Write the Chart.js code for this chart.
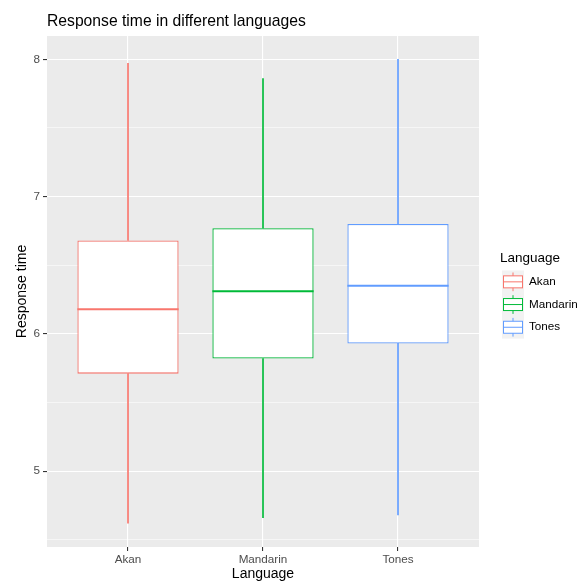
<!DOCTYPE html>
<html>
<head>
<meta charset="utf-8">
<script src="https://cdn.jsdelivr.net/npm/chart.js@4.4.0/dist/chart.umd.min.js"></script>
<style>
  html, body { margin: 0; padding: 0; background: #ffffff; }
  #wrap { width: 582px; height: 583px; }
</style>
</head>
<body>
<div id="wrap"><canvas id="box-chart"></canvas></div>
<script>
// data
const languages = ['Akan', 'Mandarin', 'Tones'];
const colors = ['#F8766D', '#00BA38', '#619CFF'];
const whiskerLow = [4.62, 4.66, 4.68];
const q1 = [5.71, 5.82, 5.93];
const median = [6.18, 6.31, 6.35];
const q3 = [6.68, 6.77, 6.80];
const whiskerHigh = [7.97, 7.86, 8.00];
const yTicks = [4.5, 5, 5.5, 6, 6.5, 7, 7.5, 8];

const FONT = 'Liberation Sans, Arial, sans-serif';

// panel background, median lines, title and legend
const ggPlugin = {
    id: 'ggLook',
    beforeDraw(chart) {
        const {ctx, chartArea} = chart;
        ctx.save();
        ctx.fillStyle = '#EBEBEB';
        ctx.fillRect(chartArea.left, chartArea.top, chartArea.right - chartArea.left, chartArea.bottom - chartArea.top);
        ctx.restore();
    },
    afterDatasetsDraw(chart) {
        const {ctx} = chart;
        const y = chart.scales.y;
        const meta = chart.getDatasetMeta(0);
        ctx.save();
        ctx.lineWidth = 2;
        meta.data.forEach((bar, i) => {
            const py = y.getPixelForValue(median[i]);
            ctx.strokeStyle = colors[i];
            ctx.beginPath();
            ctx.moveTo(bar.x - bar.width / 2, py);
            ctx.lineTo(bar.x + bar.width / 2, py);
            ctx.stroke();
        });
        ctx.restore();
    },
    afterDraw(chart) {
        const {ctx, chartArea} = chart;
        ctx.save();
        // title
        ctx.fillStyle = '#000000';
        ctx.font = '15.7px ' + FONT;
        ctx.textBaseline = 'alphabetic';
        ctx.textAlign = 'left';
        ctx.fillText('Response time in different languages', chartArea.left, 25.5);

        // legend
        const keyX = 502, keyW = 22, keyH = 22.7, keyTop = 270.5;
        ctx.font = '13.5px ' + FONT;
        ctx.fillText('Language', 500, 262);
        ctx.fillStyle = '#F2F2F2';
        ctx.fillRect(keyX, keyTop, keyW, keyH * languages.length);
        languages.forEach((lang, i) => {
            const cy = keyTop + keyH * i + keyH / 2;
            const cx = keyX + keyW / 2;
            ctx.strokeStyle = colors[i];
            ctx.lineWidth = 1;
            ctx.beginPath();
            ctx.moveTo(cx, keyTop + keyH * i + 2);
            ctx.lineTo(cx, keyTop + keyH * (i + 1) - 2);
            ctx.stroke();
            ctx.fillStyle = '#FFFFFF';
            ctx.fillRect(keyX + 1.5, cy - 6, keyW - 3, 12);
            ctx.strokeRect(keyX + 1.5, cy - 6, keyW - 3, 12);
            ctx.beginPath();
            ctx.moveTo(keyX + 1.5, cy);
            ctx.lineTo(keyX + keyW - 1.5, cy);
            ctx.stroke();
            ctx.fillStyle = '#000000';
            ctx.font = '11.7px ' + FONT;
            ctx.textBaseline = 'middle';
            ctx.fillText(lang, 529, cy);
        });
        ctx.restore();
    }
};

const ctx = document.getElementById('box-chart').getContext('2d');

const boxData = languages.map((l, i) => ({x: i + 1, y: [q1[i], q3[i]]}));
const lowData = languages.map((l, i) => ({x: i + 1, y: [whiskerLow[i], q1[i]]}));
const highData = languages.map((l, i) => ({x: i + 1, y: [q3[i], whiskerHigh[i]]}));

const myChart = new Chart(ctx, {
    type: 'bar',
    data: {
        datasets: [
            {
                label: 'box',
                data: boxData,
                backgroundColor: '#FFFFFF',
                borderColor: colors,
                borderWidth: 1.3,
                borderSkipped: false,
                grouped: false,
                categoryPercentage: 1,
                barPercentage: 0.75
            },
            {
                label: 'lower',
                data: lowData,
                backgroundColor: colors,
                borderWidth: 0,
                grouped: false,
                barThickness: 1
            },
            {
                label: 'upper',
                data: highData,
                backgroundColor: colors,
                borderWidth: 0,
                grouped: false,
                barThickness: 1
            }
        ]
    },
    options: {
        responsive: true,
        maintainAspectRatio: false,
        animation: false,
        layout: {
            padding: {left: 0, right: 103, top: 36, bottom: 0}
        },
        plugins: {
            legend: {display: false},
            tooltip: {enabled: false},
            title: {display: false}
        },
        scales: {
            x: {
                type: 'linear',
                min: 0.4,
                max: 3.6,
                offset: false,
                afterBuildTicks: (scale) => {
                    scale.ticks = languages.map((l, i) => ({value: i + 1}));
                },
                afterFit: (scale) => { scale.height = 36; },
                ticks: {
                    autoSkip: false,
                    maxRotation: 0,
                    padding: 2,
                    color: '#4D4D4D',
                    font: {family: FONT, size: 11.7},
                    callback: (v) => languages[v - 1]
                },
                grid: {
                    offset: false,
                    color: '#FFFFFF',
                    lineWidth: 1.1,
                    tickLength: 4,
                    tickColor: '#333333'
                },
                border: {display: false},
                title: {
                    display: true,
                    text: 'Language',
                    color: '#000000',
                    font: {family: FONT, size: 14},
                    padding: {top: 0, bottom: 0}
                }
            },
            y: {
                type: 'linear',
                min: 4.447,
                max: 8.17,
                afterBuildTicks: (scale) => {
                    scale.ticks = yTicks.map(v => ({value: v}));
                },
                afterFit: (scale) => { scale.width = 47; },
                ticks: {
                    autoSkip: false,
                    padding: 3,
                    color: '#4D4D4D',
                    font: {family: FONT, size: 11.7},
                    callback: (v) => (v % 1 === 0 ? String(v) : '')
                },
                grid: {
                    color: '#FFFFFF',
                    lineWidth: (c) => (c.tick && c.tick.value % 1 === 0 ? 1.1 : 0.55),
                    tickLength: 4,
                    tickColor: (c) => (c.tick && c.tick.value % 1 === 0 ? '#333333' : 'rgba(0,0,0,0)')
                },
                border: {display: false},
                title: {
                    display: true,
                    text: 'Response time',
                    color: '#000000',
                    font: {family: FONT, size: 14},
                    padding: {top: 14, bottom: 0}
                }
            }
        }
    },
    plugins: [ggPlugin]
});
</script>
</body>
</html>
